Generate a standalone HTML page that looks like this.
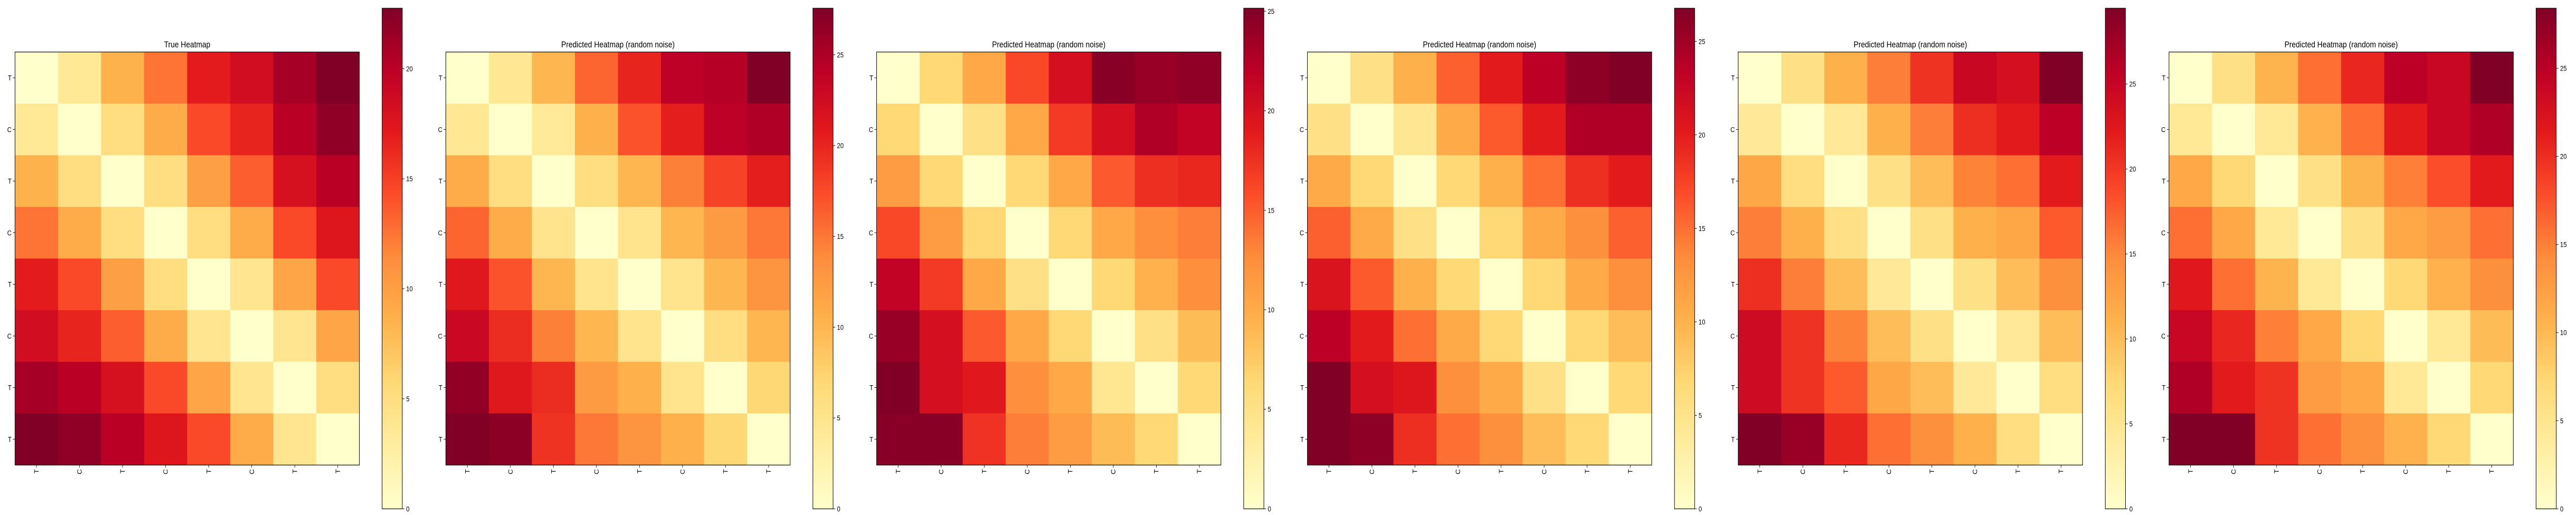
<!DOCTYPE html>
<html><head><meta charset="utf-8"><style>
html,body{margin:0;padding:0;background:#fff;overflow:hidden;width:100%;height:100%;}
svg{display:block;width:100vw;height:100vh;font-family:"Liberation Sans","DejaVu Sans",sans-serif;}
</style></head><body>
<svg id="fig" viewBox="0 0 6000 1000" preserveAspectRatio="none" xmlns="http://www.w3.org/2000/svg">
<defs>
<linearGradient id="ylorrd" x1="0" y1="1" x2="0" y2="0">
<stop offset="0" stop-color="#ffffcc"/><stop offset="0.125" stop-color="#ffeda0"/><stop offset="0.25" stop-color="#fed976"/><stop offset="0.375" stop-color="#feb24c"/><stop offset="0.5" stop-color="#fd8d3c"/><stop offset="0.625" stop-color="#fc4e2a"/><stop offset="0.75" stop-color="#e31a1c"/><stop offset="0.875" stop-color="#bd0026"/><stop offset="1" stop-color="#800026"/>
</linearGradient>
</defs>
</svg>
<script>
const titles = ["True Heatmap","Predicted Heatmap (random noise)","Predicted Heatmap (random noise)","Predicted Heatmap (random noise)","Predicted Heatmap (random noise)","Predicted Heatmap (random noise)"];
const labels = ["T","C","T","C","T","C","T","T"];
const vmaxes = [22.75,27.56,25.15,26.77,29.46,28.4];
const m1 = [
[0,3.5,8.5,12.5,17,18.5,21,22.75],
[3.5,0,5,9,14.5,16.5,20,22],
[8.5,5,0,5,10,13.5,18,20],
[12.5,9,5,0,5,9,14.5,17.5],
[17,14.5,10,5,0,4,9.5,14.5],
[18.5,16.5,13.5,9,4,0,4,9.5],
[21,20,18,14.5,9.5,4,0,5],
[22.75,22,20,17.5,14.5,9,4,0]];
const m2 = [
[0,4.5,10,16,20,24,24.5,27.5],
[4.5,0,4,10.5,17,20.5,24,24.8],
[11,6,0,6,10,14.5,18,20.5],
[16,11,5,0,5,10,12.5,15],
[21,17,10,5,0,5,10,13],
[23,19.5,14.5,10,5,0,6,10],
[26.5,21,19.5,12.5,10.5,5,0,7],
[27.5,26.8,19,15,13,10.5,7,0]];
const m3 = [
[0,6.3,10.3,16.1,20.1,24.7,23.9,24.3],
[6.3,0,5,10.3,16.9,20.1,22.7,21.6],
[11.3,6.3,0,6.3,10.3,15.1,17.6,18.1],
[16.1,11.3,6.3,0,6.3,10.3,12.4,13.3],
[21.6,16.9,10.3,5,0,6.3,9.5,12.4],
[23.9,20.1,15.1,10.3,6.3,0,5,8.6],
[25.15,20.1,19.1,12.4,10.3,4.3,0,6.3],
[24.7,24.7,17.4,13.3,11.3,8.6,6.3,0]];
const m4 = [
[0,5.4,10.2,15.8,20.1,23.4,26,26.77],
[5.4,0,4.5,10.8,16.1,20.1,24.1,24.1],
[10.8,6.7,0,6.7,10.2,15,18.7,20.1],
[15.8,10.8,5.4,0,6.7,10.8,13.1,15.8],
[20.9,16.1,10.2,6.7,0,6.7,10.8,13.1],
[23.4,20.1,15,10.8,6.7,0,6.7,9.1],
[26.77,21.4,20.6,13.1,10.8,5.4,0,6.7],
[26.77,26,18.7,15,13.1,9.1,6.7,0]];
const m5 = [
[0,5.9,11.2,15.6,20.3,24.7,23.6,29.46],
[4.4,0,4.4,11.2,15.6,20.6,22.1,25.8],
[12.1,6.5,0,5.9,10,15.3,16.5,22.1],
[15.6,11.2,5.9,0,5.9,11.2,12.1,17.7],
[20.6,15.6,10,4.4,0,5.9,10,14.4],
[24.2,20.3,15.3,10,5.9,0,4.4,10],
[24.2,20.3,17.7,12.1,10,4.4,0,6.5],
[29.46,28,21.2,16.5,14.4,11.2,6.5,0]];
const m6 = [
[0,5.7,10.5,15.9,20.4,24.9,23.9,28.4],
[4.3,0,4.3,10.7,15.9,21.3,23.9,25.6],
[11.6,7.1,0,5.7,10.5,15,17.8,21.3],
[15.9,11.6,4.3,0,5.7,11.6,12.8,15.9],
[21.6,15.9,10.5,4.3,0,7.1,10.7,13.9],
[23.9,20.4,15,11.6,7.1,0,4.3,9.7],
[25.6,21.3,19.6,12.8,11.6,4.3,0,7.1],
[28.4,28.4,19.6,15.9,13.9,10.7,7.1,0]];
const matrices = [m1,m2,m3,m4,m5,m6];

const stops = ["#ffffcc","#ffeda0","#fed976","#feb24c","#fd8d3c","#fc4e2a","#e31a1c","#bd0026","#800026"];
function hex(h){return [parseInt(h.slice(1,3),16),parseInt(h.slice(3,5),16),parseInt(h.slice(5,7),16)];}
function cmap(t){t=Math.max(0,Math.min(1,t));const p=t*(stops.length-1);const i=Math.min(stops.length-2,Math.floor(p));const f=p-i;const a=hex(stops[i]),b=hex(stops[i+1]);return "rgb("+a.map((v,k)=>Math.round(v+(b[k]-v)*f)).join(",")+")";}
const NS="http://www.w3.org/2000/svg";
const svg=document.getElementById("fig");
function mk(tag,attrs,parent){const e=document.createElementNS(NS,tag);for(const k in attrs)e.setAttribute(k,attrs[k]);parent.appendChild(e);return e;}
const TOP=101, N=8, SIZE=802, CELL=SIZE/N;
const CBTOP=16, CBBOT=988, CBW=47, CBOFF=855, PERIOD=1003.4, LEFT0=35;
matrices.forEach((mat,p)=>{
  const left=LEFT0+PERIOD*p;
  const vmax=vmaxes[p];
  const g=mk("g",{},svg);
  
  
  const xs=j=>left+j*CELL, ys=i=>TOP+i*CELL;
  mat.forEach((row,i)=>row.forEach((v,j)=>{
    const r=mk("rect",{x:xs(j),y:ys(i),width:CELL+0.5,height:CELL+0.5,fill:cmap(v/vmax)},g);
    
    
  }));
  const fr=mk("rect",{x:left,y:TOP,width:SIZE,height:SIZE,fill:"none",stroke:"#000","stroke-width":1.2},g);
  
  
  const t=mk("text",{x:left+SIZE/2,y:TOP-9,"text-anchor":"middle","font-size":"17px",fill:"#000"},g);
  t.textContent=titles[p];
  
  
  labels.forEach((lb,i)=>{
    const cy=ys(i)+CELL/2;
    mk("line",{x1:left-5,y1:cy,x2:left,y2:cy,stroke:"#000","stroke-width":1},g);
    const yl=mk("text",{x:left-8,y:cy+5,"text-anchor":"end","font-size":"14px",fill:"#000"},g);
    yl.textContent=lb;
    
    
    const cx=xs(i)+CELL/2;
    mk("line",{x1:cx,y1:TOP+SIZE,x2:cx,y2:TOP+SIZE+5,stroke:"#000","stroke-width":1},g);
    const xl=mk("text",{x:0,y:0,"text-anchor":"end","font-size":"14px",fill:"#000",transform:"translate("+(cx+5)+","+(TOP+SIZE+8)+") rotate(-90)"},g);
    xl.textContent=lb;
    
    
  });
  const cbx=left+CBOFF;
  const cb=mk("rect",{x:cbx,y:CBTOP,width:CBW,height:CBBOT-CBTOP,fill:"url(#ylorrd)",stroke:"#000","stroke-width":1.2},g);
  
  
  const cy=v=>CBBOT-(v/vmax)*(CBBOT-CBTOP);
  for(let v=0;v<=vmax;v+=5){
    const y=cy(v);
    mk("line",{x1:cbx+CBW,y1:y,x2:cbx+CBW+5,y2:y,stroke:"#000","stroke-width":1},g);
    const tl=mk("text",{x:cbx+CBW+9,y:y+5,"font-size":"14px",fill:"#000"},g);
    tl.textContent=String(v);
    
    
  }
});
</script>
</body></html>
